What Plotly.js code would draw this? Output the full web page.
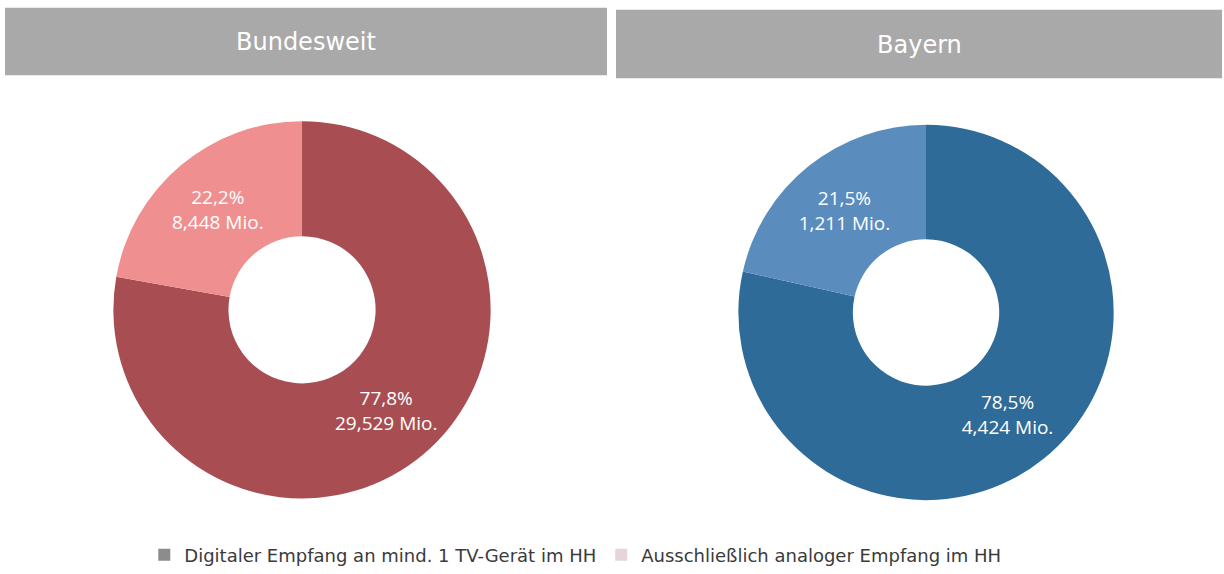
<!DOCTYPE html>
<html>
<head>
<meta charset="utf-8">
<script src="https://cdn.plot.ly/plotly-3.0.1.min.js"></script>
<style>html,body{margin:0;padding:0;background:#fff;}#chart{width:1224px;height:574px;}</style>
</head>
<body>
<div id="chart"></div>
<script>
const categories = ["Digitaler Empfang an mind. 1 TV-Gerät im HH", "Ausschließlich analoger Empfang im HH"];
const panelTitles = ["Bundesweit", "Bayern"];
const bundesweitPct = [77.8, 22.2];
const bundesweitMio = [29.529, 8.448];
const bayernPct = [78.5, 21.5];
const bayernMio = [4.424, 1.211];
const legendColors = ["#8c8c8c", "#e6d3dc"];

const labelFont = {family: "Open Sans, Noto Sans, sans-serif", size: 19, color: "#ffffff"};

function donut(pct, mio, colors, dom) {
  return {
    type: "pie",
    labels: categories,
    values: pct,
    customdata: mio,
    sort: false,
    direction: "clockwise",
    rotation: 0,
    hole: 0.39,
    domain: dom,
    marker: {colors: colors, line: {width: 0}},
    textinfo: "text",
    texttemplate: "%{value:.1f}%<br>%{customdata:.3f} Mio.",
    textposition: "inside",
    insidetextorientation: "horizontal",
    insidetextfont: labelFont,
    showlegend: false,
    hoverinfo: "skip"
  };
}

const traces = [
  donut(bundesweitPct, bundesweitMio, ["#a84e52", "#ef8f8f"], {x: [0.0891, 0.4044], y: [0.1115, 0.7840]}),
  donut(bayernPct, bayernMio, ["#2f6b98", "#5a8cbe"], {x: [0.5997, 0.9134], y: [0.1085, 0.7775]}),
  {type: "scatter", mode: "markers", x: [null], y: [null], name: categories[0],
   marker: {symbol: "square", size: 15, color: legendColors[0]}, hoverinfo: "skip"},
  {type: "scatter", mode: "markers", x: [null], y: [null], name: categories[1],
   marker: {symbol: "square", size: 15, color: legendColors[1]}, hoverinfo: "skip"}
];

function py(px) { return 1 - px / 574; }
function pxx(px) { return px / 1224; }

const layout = {
  width: 1224, height: 574,
  margin: {l: 0, r: 0, t: 0, b: 0},
  paper_bgcolor: "#ffffff",
  plot_bgcolor: "#ffffff",
  separators: ",.",
  xaxis: {visible: false, domain: [0, 1]},
  yaxis: {visible: false, domain: [0, 1]},
  showlegend: true,
  legend: {
    orientation: "h", x: 0.47, xanchor: "center", y: py(568), yanchor: "middle",
    font: {family: "DejaVu Sans, Verdana, sans-serif", size: 18, color: "#3a3a3a"},
    itemsizing: "constant", traceorder: "normal", bgcolor: "rgba(0,0,0,0)", itemwidth: 30
  },
  shapes: [
    {type: "rect", xref: "paper", yref: "paper", x0: pxx(5), x1: pxx(607), y0: py(77), y1: py(8),
     fillcolor: "#a9a9a9", line: {width: 0}},
    {type: "rect", xref: "paper", yref: "paper", x0: pxx(616), x1: pxx(1222), y0: py(80), y1: py(10),
     fillcolor: "#a9a9a9", line: {width: 0}}
  ],
  annotations: [
    {text: panelTitles[0], xref: "paper", yref: "paper", x: pxx(306), y: py(43), showarrow: false,
     xanchor: "center", yanchor: "middle", font: {family: "DejaVu Sans, Verdana, sans-serif", size: 24, color: "#ffffff"}},
    {text: panelTitles[1], xref: "paper", yref: "paper", x: pxx(919), y: py(46), showarrow: false,
     xanchor: "center", yanchor: "middle", font: {family: "DejaVu Sans, Verdana, sans-serif", size: 24, color: "#ffffff"}}
  ]
};

Plotly.newPlot("chart", traces, layout, {displayModeBar: false, staticPlot: true});
</script>
</body>
</html>
